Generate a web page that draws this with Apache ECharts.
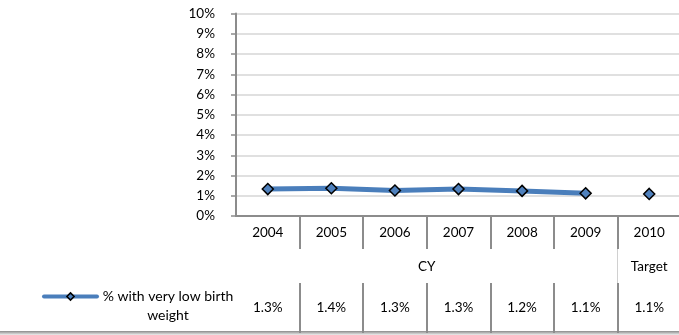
<!DOCTYPE html>
<html><head><meta charset="utf-8">
<script src="https://cdn.jsdelivr.net/npm/echarts@6/dist/echarts.min.js"></script>
<style>html,body{margin:0;padding:0;background:#fff}#c{width:679px;height:335px}</style>
</head><body><div id="c"></div>
<script>
const categories = ['2004', '2005', '2006', '2007', '2008', '2009', '2010'];
const plottedValues = [1.33, 1.37, 1.26, 1.33, 1.24, 1.12, 1.09];
const tableValues = [1.3, 1.4, 1.3, 1.3, 1.2, 1.1, 1.1];
const groupLabels = ['CY', 'Target'];
const groupSpans = [6, 1];
const seriesName = '% with very low birth weight';
const yMin = 0, yMax = 10, yStep = 1;

// group index of every category, group centers and inner boundaries (category units)
const groupOf = [];
groupSpans.forEach((s, g) => { for (let k = 0; k < s; k++) groupOf.push(g); });
const groupCenters = [], groupBounds = [];
let acc = 0;
groupSpans.forEach((s, g) => {
  groupCenters.push(acc + s / 2);
  acc += s;
  if (g < groupSpans.length - 1) groupBounds.push(acc);
});
function groupLabelAt(v) {
  const k = groupCenters.findIndex(c => Math.abs(c - v) < 1e-6);
  return k >= 0 ? groupLabels[k] : '';
}

const lineBlue = '#4a7ebb', markBlue = '#4f81bd';
const axisGray = '#8c8c8c';
const font = 'Lato';
const fs = 13.5;
const lfs = 14;

const chart = echarts.init(document.getElementById('c'), null, {renderer: 'canvas'});

function makeSeries(g) {
  return {
    name: seriesName, type: 'line', xAxisIndex: 0, yAxisIndex: 0,
    data: plottedValues.map((v, i) => groupOf[i] === g ? v : null),
    symbol: 'diamond', symbolSize: 11,
    itemStyle: {color: markBlue, borderColor: '#000', borderWidth: 1.5},
    lineStyle: {color: lineBlue, width: 5, cap: 'round'},
    emphasis: {disabled: true}, silent: true, animation: false, z: 3
  };
}

chart.setOption({
  backgroundColor: '#fff',
  animation: false,
  textStyle: {fontFamily: font},
  grid: {left: 236, top: 13.5, width: 445, height: 202.5, containLabel: false, outerBoundsMode: 'none'},
  yAxis: {
    type: 'value', min: yMin, max: yMax, interval: yStep,
    axisLine: {show: true, lineStyle: {color: axisGray, width: 2}},
    axisTick: {show: true, length: 5, lineStyle: {color: axisGray, width: 1.5}},
    axisLabel: {formatter: '{value}%', color: '#000', fontSize: fs, fontFamily: font, margin: 21},
    splitLine: {show: true, lineStyle: {color: '#d6d6d6', width: 1.5}}
  },
  xAxis: [
    { // year row
      type: 'category', data: categories, boundaryGap: true, position: 'bottom',
      axisLine: {show: true, lineStyle: {color: axisGray, width: 2}},
      axisTick: {show: true, length: 33, interval: (i) => i > 0, lineStyle: {color: axisGray, width: 2}},
      axisLabel: {color: '#000', fontSize: fs, fontFamily: font, margin: 10, interval: 0}
    },
    { // group row: labels and group separators
      type: 'value', min: 0, max: categories.length, interval: 6, position: 'bottom', offset: 33,
      axisLine: {show: false}, splitLine: {show: false},
      axisTick: {show: true, length: 34, customValues: groupBounds, lineStyle: {color: '#d0d0d0', width: 1}},
      axisLabel: {color: '#000', fontSize: fs, fontFamily: font, margin: 11, customValues: groupCenters,
        formatter: (v) => groupLabelAt(v)}
    },
    { // value row
      type: 'category', data: categories, boundaryGap: true, position: 'bottom', offset: 67,
      axisLine: {show: false},
      axisTick: {show: true, length: 50, interval: (i) => i > 0, lineStyle: {color: axisGray, width: 2}},
      axisLabel: {color: '#000', fontSize: fs, fontFamily: font, margin: 18, interval: 0,
        formatter: (v, i) => tableValues[i].toFixed(1) + '%'}
    }
  ],
  legend: {
    data: [seriesName], left: 37, top: 263, padding: 5, itemWidth: 53, itemHeight: 9, selectedMode: false,
    lineStyle: {width: 4, color: lineBlue, cap: 'round'},
    itemStyle: {color: markBlue, borderColor: '#000', borderWidth: 1.5},
    formatter: () => '{e|}\n{a|% with very low birth}\n{a|weight}',
    textStyle: {fontFamily: font, fontSize: lfs, color: '#000',
      rich: {e: {height: 19, lineHeight: 19}, a: {width: 128, align: 'center', lineHeight: 19, fontSize: lfs, fontFamily: font, color: '#000', padding: [0, 0, 0, 2]}}}
  },
  graphic: [{
    type: 'rect', left: 0, top: 331, silent: true,
    shape: {width: 679, height: 4},
    style: {fill: new echarts.graphic.LinearGradient(0, 0, 0, 1, [{offset: 0, color: '#8a8a8a'}, {offset: 1, color: '#eeeeee'}])}
  }],
  series: groupLabels.map((_, g) => makeSeries(g))
});
</script></body></html>
